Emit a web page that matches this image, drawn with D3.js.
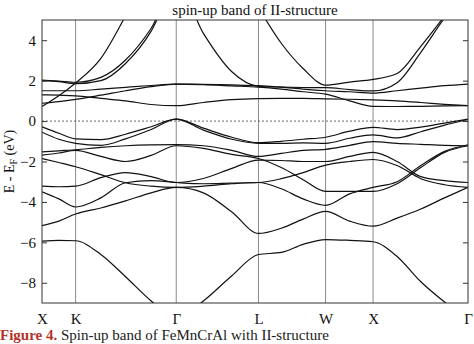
<!DOCTYPE html>
<html>
<head>
<meta charset="utf-8">
<script src="https://cdn.jsdelivr.net/npm/d3@7"></script>
<style>
  body { margin: 0; background: #fff; }
  text { font-family: "Liberation Serif", "DejaVu Serif", serif; }
</style>
</head>
<body>
<div id="chart"></div>
<script>
// high-symmetry points along the k-path
const kLabels = ['X', 'K', 'Γ', 'L', 'W', 'X', 'Γ'];
const kTicks = [0, 0.354, 1.414, 2.280, 2.987, 3.487, 4.487];

const kGrid = [0, 0.177, 0.354, 0.62, 0.88, 1.15, 1.414, 1.70, 2.00, 2.280,
               2.52, 2.75, 2.987, 3.24, 3.487, 3.74, 3.99, 4.24, 4.487];

const yTicks = [-8, -6, -4, -2, 0, 2, 4];

// band energies (eV, relative to E_F)
const bandS1  = [0.72, 1.25, 1.88, 3.1, 5.2, 7.6, 9.0, 9.4, 9.4, 9.0, 8.8, 8.6, 8.5, 8.5, 8.5, 8.7, 9.0, 9.3, 9.5];
const bandS2a = [2.03, 1.98, 1.92, 2.16, 3.02, 4.59, 6.8, 4.34, 2.44, 1.72, 1.68, 1.66, 1.65, 1.56, 1.49, 1.9, 3.4, 5.1, 6.5];
const bandS2b = [2.0, 1.95, 1.85, 2.0, 2.85, 4.45, 7.0, 7.8, 7.8, 5.6, 3.85, 2.6, 1.78, 1.93, 2.06, 2.35, 3.7, 5.2, 6.8];
const bandC1  = [1.5, 1.5, 1.5, 1.58, 1.67, 1.76, 1.83, 1.82, 1.79, 1.75, 1.68, 1.58, 1.5, 1.45, 1.38, 1.5, 1.63, 1.75, 1.83];
const bandC2  = [1.3, 1.28, 1.25, 1.12, 1.0, 0.82, 0.76, 0.92, 1.06, 1.11, 1.12, 1.12, 1.1, 1.08, 1.05, 1.0, 0.92, 0.83, 0.76];
const bandC3  = [0.88, 0.96, 1.07, 1.28, 1.5, 1.7, 1.83, 1.8, 1.74, 1.68, 1.58, 1.45, 1.33, 1.0, 0.73, 0.72, 0.73, 0.75, 0.76];
const bandV1  = [-0.28, -0.6, -0.88, -0.92, -0.65, -0.28, 0.1, -0.35, -0.8, -1.07, -1.0, -0.9, -0.8, -0.5, -0.31, -0.42, -0.3, -0.1, 0.1];
const bandV2  = [-0.55, -0.9, -1.1, -1.2, -0.88, -0.42, 0.1, -0.45, -0.9, -1.1, -1.1, -1.08, -1.1, -0.85, -0.68, -0.83, -0.53, -0.2, 0.08];
const bandL1  = [-1.52, -1.47, -1.42, -1.3, -1.22, -1.18, -1.17, -1.22, -1.45, -1.75, -1.6, -1.45, -1.4, -1.2, -1.02, -1.1, -1.15, -1.2, -1.22];
const bandL2  = [-1.68, -1.58, -1.45, -1.75, -2.0, -1.7, -1.22, -1.35, -1.65, -1.85, -2.3, -2.9, -3.48, -3.48, -3.48, -3.1, -2.3, -1.55, -1.22];
const bandL3  = [-1.85, -2.05, -2.26, -2.65, -3.05, -3.22, -3.28, -3.22, -3.1, -3.04, -3.35, -3.85, -4.17, -3.6, -3.28, -3.0, -2.2, -1.5, -1.17];
const bandL4  = [-3.22, -3.25, -3.22, -2.8, -2.55, -2.75, -3.04, -2.84, -2.34, -1.93, -1.95, -2.0, -2.0, -1.75, -1.55, -2.0, -2.75, -2.95, -3.04];
const bandL5  = [-3.5, -3.85, -4.25, -3.8, -3.05, -2.95, -3.04, -3.1, -3.07, -3.04, -2.85, -2.55, -2.18, -2.0, -1.9, -2.2, -2.85, -3.15, -3.28];
const bandL6  = [-5.17, -4.95, -4.6, -4.3, -3.95, -3.55, -3.28, -3.55, -4.5, -5.56, -5.3, -4.85, -4.47, -4.95, -5.2, -4.8, -4.35, -3.8, -3.28];
const bandL7  = [-5.94, -5.9, -5.92, -6.6, -7.7, -8.9, -9.8, -8.9, -7.65, -6.6, -6.5, -6.1, -5.86, -5.9, -5.97, -6.7, -7.95, -8.95, -9.8];

const bands = [bandS1, bandS2a, bandS2b, bandC1, bandC2, bandC3,
               bandV1, bandV2, bandL1, bandL2, bandL3, bandL4, bandL5, bandL6, bandL7];

const W = 474, H = 344;
const margin = { top: 20, right: 6, bottom: 41, left: 42 };
const width = W - margin.left - margin.right;
const height = H - margin.top - margin.bottom;

const svg = d3.select('#chart')
  .append('svg')
  .attr('width', W)
  .attr('height', H);

const g = svg.append('g')
  .attr('transform', `translate(${margin.left},${margin.top})`);

const x = d3.scaleLinear().domain([kTicks[0], kTicks[kTicks.length - 1]]).range([0, width]);
const y = d3.scaleLinear().domain([-9, 5]).range([height, 0]);

svg.append('defs').append('clipPath').attr('id', 'plotClip')
  .append('rect').attr('width', width).attr('height', height);

// vertical lines at high-symmetry points
g.selectAll('.kline')
  .data(kTicks.slice(1, -1))
  .enter().append('line')
  .attr('x1', d => x(d)).attr('x2', d => x(d))
  .attr('y1', 0).attr('y2', height)
  .attr('stroke', '#8a8a8a')
  .attr('stroke-width', 1);

// Fermi level
g.append('line')
  .attr('x1', 0).attr('x2', width)
  .attr('y1', y(0)).attr('y2', y(0))
  .attr('stroke', '#444')
  .attr('stroke-width', 0.8)
  .attr('stroke-dasharray', '2,2');

// bands
const line = d3.line()
  .x((d, i) => x(kGrid[i]))
  .y(d => y(d))
  .curve(d3.curveMonotoneX);

g.append('g').attr('clip-path', 'url(#plotClip)')
  .selectAll('path')
  .data(bands)
  .enter().append('path')
  .attr('d', line)
  .attr('fill', 'none')
  .attr('stroke', '#111')
  .attr('stroke-width', 1.2);

// axes
const yLeft = g.append('g')
  .call(d3.axisLeft(y).tickValues(yTicks).tickSize(-5).tickPadding(6).tickFormat(d3.format('d')));
const yRight = g.append('g')
  .attr('transform', `translate(${width},0)`)
  .call(d3.axisRight(y).tickValues(yTicks).tickSize(-5).tickFormat(''));
[yLeft, yRight].forEach(a => {
  a.select('.domain').remove();
  a.selectAll('line').attr('stroke', '#333');
});
yLeft.selectAll('text')
  .attr('font-family', '"Liberation Serif", serif')
  .attr('font-size', 15)
  .attr('fill', '#111');

const xAxis = g.append('g')
  .attr('transform', `translate(0,${height})`)
  .call(d3.axisBottom(x).tickValues(kTicks).tickSize(0).tickPadding(10)
    .tickFormat((d, i) => kLabels[i]));
xAxis.select('.domain').remove();
xAxis.selectAll('text')
  .attr('font-family', '"Liberation Serif", serif')
  .attr('font-size', 15)
  .attr('fill', '#111');

// frame
g.append('rect')
  .attr('width', width).attr('height', height)
  .attr('fill', 'none')
  .attr('stroke', '#333')
  .attr('stroke-width', 1);

// title
svg.append('text')
  .attr('x', margin.left + width / 2)
  .attr('y', 15)
  .attr('text-anchor', 'middle')
  .attr('font-size', 15)
  .attr('fill', '#111')
  .text('spin-up band of II-structure');

// y label
const yl = svg.append('text')
  .attr('transform', `translate(14,${margin.top + height / 2}) rotate(-90)`)
  .attr('text-anchor', 'middle')
  .attr('font-size', 14)
  .attr('fill', '#111');
yl.append('tspan').text('E - E');
yl.append('tspan').attr('font-size', 10).attr('dy', 3).text('F');
yl.append('tspan').attr('dy', -3).text(' (eV)');

// caption
const cap = svg.append('text')
  .attr('x', 0)
  .attr('y', 340)
  .attr('font-size', 15);
cap.append('tspan').attr('fill', '#b3332a').attr('font-weight', 'bold').text('Figure 4.');
cap.append('tspan').attr('fill', '#222').text(' Spin-up band of FeMnCrAl with II-structure');
</script>
</body>
</html>
